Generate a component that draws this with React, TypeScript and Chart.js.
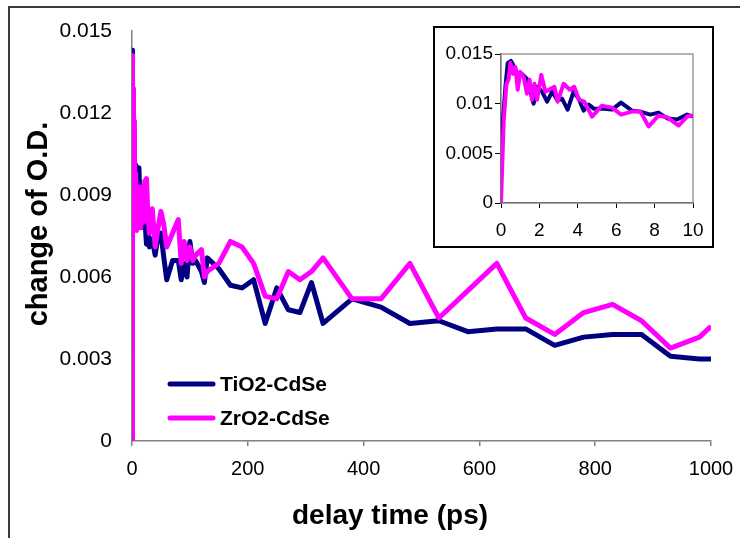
import React, { useEffect, useRef } from "react";
import { Chart, registerables } from "chart.js";

Chart.register(...registerables);

// ---- data ----
const seriesNames = ["TiO2-CdSe", "ZrO2-CdSe"];
const seriesColors = ["#000080", "#FF00FF"];
const xAxisTitle = "delay time (ps)";
const yAxisTitle = "change of O.D.";

// early-time data (0-10 ps), shown in the inset and the main chart
const tiEarlyTime = [0, 0.23, 0.35, 0.52, 0.69, 0.87, 1.09, 1.35, 1.53, 1.7, 1.88, 2.14, 2.4, 2.66, 2.92, 3.18, 3.47, 3.78, 4.05, 4.3, 4.57, 4.83, 5.26, 5.78, 6.25, 6.82, 7.26, 7.78, 8.2, 8.68, 9.17, 9.69, 10];
const tiEarly = [0.0056, 0.0117, 0.0141, 0.0143, 0.0137, 0.0129, 0.013, 0.0125, 0.0112, 0.01, 0.0117, 0.0112, 0.0102, 0.0112, 0.0104, 0.0105, 0.0094, 0.0112, 0.0105, 0.0093, 0.0099, 0.0095, 0.0095, 0.0094, 0.0101, 0.0093, 0.0092, 0.0089, 0.0091, 0.0085, 0.0084, 0.0089, 0.0087];

const zrEarlyTime = [0, 0.14, 0.28, 0.4, 0.49, 0.63, 0.75, 0.87, 1.0, 1.18, 1.35, 1.49, 1.61, 1.74, 1.88, 2.1, 2.31, 2.78, 2.95, 3.26, 3.58, 3.82, 4.05, 4.34, 4.74, 5.26, 5.78, 6.25, 6.82, 7.26, 7.69, 8.2, 8.68, 9.25, 9.69, 10];
const zrEarly = [0, 0.0083, 0.0119, 0.0125, 0.0141, 0.013, 0.0137, 0.0114, 0.0132, 0.0127, 0.011, 0.0124, 0.0104, 0.012, 0.0104, 0.0129, 0.0112, 0.0117, 0.0102, 0.012, 0.0114, 0.0117, 0.0104, 0.0102, 0.0087, 0.0098, 0.0096, 0.0089, 0.0092, 0.0092, 0.0077, 0.0088, 0.0086, 0.0078, 0.0087, 0.0088];

// later data (> 10 ps), shared delay times
const lateTime = [12, 15, 17, 20, 22, 25, 27, 30, 35, 40, 45, 50, 55, 60, 70, 80, 85, 90, 95, 100, 105, 110, 120, 125, 130, 150, 170, 190, 210, 230, 250, 270, 290, 310, 330, 380, 430, 480, 530, 580, 630, 680, 730, 780, 830, 880, 930, 980, 1000];
const tiLate = [0.01, 0.008, 0.0085, 0.0078, 0.0082, 0.0072, 0.008, 0.0071, 0.0074, 0.0068, 0.0075, 0.0076, 0.0067, 0.0059, 0.0066, 0.0066, 0.0059, 0.0065, 0.006, 0.0073, 0.0065, 0.0066, 0.0062, 0.0058, 0.0067, 0.0063, 0.0057, 0.0056, 0.0059, 0.0043, 0.0056, 0.0048, 0.0047, 0.0058, 0.0043, 0.0052, 0.0049, 0.0043, 0.0044, 0.004, 0.0041, 0.0041, 0.0035, 0.0038, 0.0039, 0.0039, 0.0031, 0.003, 0.003];
const zrLate = [0.0093, 0.0078, 0.0093, 0.008, 0.0095, 0.0096, 0.0085, 0.0076, 0.0085, 0.0071, 0.0078, 0.0084, 0.0079, 0.0071, 0.0076, 0.0081, 0.0065, 0.0073, 0.0066, 0.0071, 0.0066, 0.0068, 0.007, 0.006, 0.0062, 0.0065, 0.0073, 0.0071, 0.0065, 0.0053, 0.0052, 0.0062, 0.0059, 0.0062, 0.0067, 0.0052, 0.0052, 0.0065, 0.0045, 0.0055, 0.0065, 0.0045, 0.0039, 0.0047, 0.005, 0.0044, 0.0034, 0.0038, 0.0042];

const mainXTicks = [0, 1000, 200];
const mainYTicks = [0, 0.015, 0.003];
const insetXTicks = [0, 10, 2];
const insetYTicks = [0, 0.015, 0.005];

const FONT = "'Liberation Sans', Arial, Helvetica, sans-serif";

const toPoints = (xs: number[], ys: number[]) => xs.map((x, i) => ({ x, y: ys[i] }));
const fmt = (v: any) => String(Number(Number(v).toFixed(4)));

const fixedSize = (key: "width" | "height", size: number) => (s: any) => {
  s[key] = size;
  s.paddingLeft = 0;
  s.paddingRight = 0;
  s.paddingTop = 0;
  s.paddingBottom = 0;
};

const legendPlugin = {
  id: "insideLegend",
  afterDraw(chart: any) {
    const ctx = chart.ctx;
    const rows = [384, 418];
    ctx.save();
    ctx.font = `bold 21px ${FONT}`;
    ctx.textBaseline = "middle";
    ctx.textAlign = "left";
    seriesNames.forEach((name, i) => {
      const y = rows[i];
      ctx.strokeStyle = seriesColors[i];
      ctx.lineWidth = 5;
      ctx.lineCap = "round";
      ctx.beginPath();
      ctx.moveTo(170, y);
      ctx.lineTo(213, y);
      ctx.stroke();
      ctx.fillStyle = "#000";
      ctx.fillText(name, 220, y + 1);
    });
    ctx.restore();
  },
};

const axisTitlePlugin = {
  id: "axisTitles",
  afterDraw(chart: any) {
    const ctx = chart.ctx;
    ctx.save();
    ctx.fillStyle = "#000";
    ctx.textAlign = "center";
    ctx.textBaseline = "middle";
    ctx.font = `bold 28px ${FONT}`;
    ctx.fillText(xAxisTitle, 390, 516);
    ctx.translate(39, 224);
    ctx.rotate(-Math.PI / 2);
    ctx.font = `bold 29px ${FONT}`;
    ctx.fillText(yAxisTitle, 0, 0);
    ctx.restore();
  },
};

const plotBorderPlugin = {
  id: "plotBorder",
  beforeDatasetsDraw(chart: any) {
    const { ctx, chartArea: a } = chart;
    ctx.save();
    ctx.strokeStyle = "#9a9a9a";
    ctx.lineWidth = 1.5;
    ctx.strokeRect(a.left, a.top, a.right - a.left, a.bottom - a.top);
    ctx.restore();
  },
};

function MainChart() {
  const ref = useRef<HTMLCanvasElement>(null);
  useEffect(() => {
    const chart = new Chart(ref.current!, {
      type: "line",
      data: {
        datasets: [
          {
            label: seriesNames[0],
            data: toPoints([...tiEarlyTime, ...lateTime], [...tiEarly, ...tiLate]),
            borderColor: seriesColors[0],
            borderWidth: 5,
            pointRadius: 0,
            tension: 0,
            borderJoinStyle: "round",
            order: 2,
          },
          {
            label: seriesNames[1],
            data: toPoints([...zrEarlyTime, ...lateTime], [...zrEarly, ...zrLate]),
            borderColor: seriesColors[1],
            borderWidth: 5,
            pointRadius: 0,
            tension: 0,
            borderJoinStyle: "round",
            order: 1,
          },
        ],
      },
      options: {
        responsive: false,
        animation: false,
        layout: { padding: { top: 31, right: 29, bottom: 0, left: 0 } },
        plugins: { legend: { display: false }, tooltip: { enabled: false } },
        scales: {
          x: {
            type: "linear",
            min: mainXTicks[0],
            max: mainXTicks[1],
            ticks: {
              stepSize: mainXTicks[2],
              color: "#000",
              font: { family: FONT, size: 20 },
              padding: 11,
              maxRotation: 0,
              autoSkip: false,
              callback: (v: any) => String(v),
            },
            grid: { display: true, drawOnChartArea: false, drawTicks: true, tickLength: 5, color: "#808080", lineWidth: 1.5 },
            border: { display: true, color: "#808080", width: 1.5 },
            afterFit: fixedSize("height", 97),
          },
          y: {
            min: mainYTicks[0],
            max: mainYTicks[1],
            ticks: {
              stepSize: mainYTicks[2],
              color: "#000",
              font: { family: FONT, size: 21 },
              padding: 20,
              callback: (v: any) => fmt(v),
            },
            grid: { display: false, drawTicks: false },
            border: { display: true, color: "#808080", width: 1.5 },
            afterFit: fixedSize("width", 132),
          },
        },
      },
      plugins: [legendPlugin, axisTitlePlugin],
    } as any);
    return () => chart.destroy();
  }, []);
  return <canvas ref={ref} width={740} height={538} style={{ display: "block", width: 740, height: 538 }} />;
}

function InsetChart() {
  const ref = useRef<HTMLCanvasElement>(null);
  useEffect(() => {
    const chart = new Chart(ref.current!, {
      type: "line",
      data: {
        datasets: [
          {
            label: seriesNames[0],
            data: toPoints(tiEarlyTime, tiEarly),
            borderColor: seriesColors[0],
            borderWidth: 4,
            pointRadius: 0,
            tension: 0,
            borderJoinStyle: "round",
            order: 2,
          },
          {
            label: seriesNames[1],
            data: toPoints(zrEarlyTime, zrEarly),
            borderColor: seriesColors[1],
            borderWidth: 4,
            pointRadius: 0,
            tension: 0,
            borderJoinStyle: "round",
            order: 1,
          },
        ],
      },
      options: {
        responsive: false,
        animation: false,
        layout: { padding: { top: 26, right: 19, bottom: 0, left: 0 } },
        plugins: { legend: { display: false }, tooltip: { enabled: false } },
        scales: {
          x: {
            type: "linear",
            min: insetXTicks[0],
            max: insetXTicks[1],
            ticks: {
              stepSize: insetXTicks[2],
              color: "#000",
              font: { family: FONT, size: 19 },
              padding: 11,
              maxRotation: 0,
              autoSkip: false,
              callback: (v: any) => String(v),
            },
            grid: { display: true, drawOnChartArea: false, drawTicks: true, tickLength: 5, color: "#000", lineWidth: 1 },
            border: { display: true, color: "#000", width: 1.2 },
            afterFit: fixedSize("height", 43),
          },
          y: {
            min: insetYTicks[0],
            max: insetYTicks[1],
            ticks: {
              stepSize: insetYTicks[2],
              color: "#000",
              font: { family: FONT, size: 19 },
              padding: 2,
              callback: (v: any) => fmt(v),
            },
            grid: { display: true, drawOnChartArea: false, drawTicks: true, tickLength: 6, color: "#000", lineWidth: 1 },
            border: { display: true, color: "#000", width: 1.2 },
            afterFit: fixedSize("width", 66),
          },
        },
      },
      plugins: [plotBorderPlugin],
    } as any);
    return () => chart.destroy();
  }, []);
  return <canvas ref={ref} width={277} height={218} style={{ display: "block", width: 277, height: 218 }} />;
}

export default function App() {
  return (
    <div style={{ position: "absolute", left: 0, top: 0, width: 740, height: 538, background: "#fff", overflow: "hidden" }}>
      <MainChart />
      <div
        style={{
          position: "absolute",
          left: 8,
          top: 6,
          width: 800,
          height: 600,
          borderLeft: "2px solid #3a3a3a",
          borderTop: "2px solid #3a3a3a",
          pointerEvents: "none",
        }}
      />
      <div
        style={{
          position: "absolute",
          left: 433,
          top: 26,
          width: 281,
          height: 222,
          boxSizing: "border-box",
          border: "2px solid #000",
          background: "#fff",
        }}
      >
        <InsetChart />
      </div>
    </div>
  );
}
